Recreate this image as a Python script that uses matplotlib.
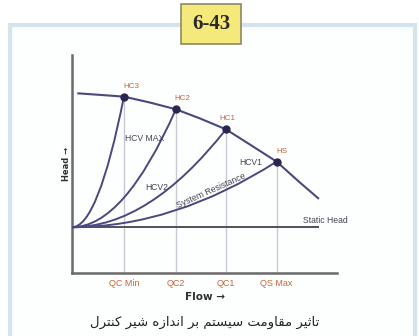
import matplotlib
matplotlib.use("Agg")
import matplotlib.pyplot as plt
from matplotlib.path import Path
from matplotlib.patches import PathPatch, Rectangle

# ---------------- data ----------------
pump_flow = [2.4, 10.6, 19.6, 29.4, 39.2, 48.3, 58.1, 66.8, 77.2, 86.0, 92.9]
pump_head = [82.4, 81.7, 80.9, 78.2, 75.1, 70.9, 65.9, 59.2, 51.1, 41.5, 34.3]
op_labels = ["HC3", "HC2", "HC1", "HS"]
op_flow = [19.6, 39.2, 58.1, 77.2]
op_head = [80.9, 75.1, 65.9, 51.1]
flow_tick_labels = ["QC Min", "QC2", "QC1", "QS Max"]
static_head = 21.0
static_end = 92.8
badge = "6-43"
caption = "تاثیر مقاومت سیستم بر اندازه شیر کنترل"

# ---------------- simple Persian shaping ----------------
FORMS = {
    "ا": ("\uFE8D", "\uFE8E", None, None),
    "ب": ("\uFE8F", "\uFE90", "\uFE91", "\uFE92"),
    "ت": ("\uFE95", "\uFE96", "\uFE97", "\uFE98"),
    "ث": ("\uFE99", "\uFE9A", "\uFE9B", "\uFE9C"),
    "د": ("\uFEA9", "\uFEAA", None, None),
    "ر": ("\uFEAD", "\uFEAE", None, None),
    "ز": ("\uFEAF", "\uFEB0", None, None),
    "س": ("\uFEB1", "\uFEB2", "\uFEB3", "\uFEB4"),
    "ش": ("\uFEB5", "\uFEB6", "\uFEB7", "\uFEB8"),
    "ق": ("\uFED5", "\uFED6", "\uFED7", "\uFED8"),
    "ل": ("\uFEDD", "\uFEDE", "\uFEDF", "\uFEE0"),
    "م": ("\uFEE1", "\uFEE2", "\uFEE3", "\uFEE4"),
    "ن": ("\uFEE5", "\uFEE6", "\uFEE7", "\uFEE8"),
    "ه": ("\uFEE9", "\uFEEA", "\uFEEB", "\uFEEC"),
    "و": ("\uFEED", "\uFEEE", None, None),
    "ی": ("\uFBFC", "\uFBFD", "\uFBFE", "\uFBFF"),
    "ک": ("\uFB8E", "\uFB8F", "\uFB90", "\uFB91"),
}


def shape(text):
    out = []
    n = len(text)
    for i, ch in enumerate(text):
        if ch not in FORMS:
            out.append(ch)
            continue
        f = FORMS[ch]
        prev = text[i - 1] if i > 0 else ""
        nxt = text[i + 1] if i < n - 1 else ""
        jp = prev in FORMS and FORMS[prev][2] is not None
        jn = f[2] is not None and nxt in FORMS
        if jp and jn:
            out.append(f[3])
        elif jp:
            out.append(f[1])
        elif jn:
            out.append(f[2])
        else:
            out.append(f[0])
    return "".join(out)[::-1]


# ---------------- figure ----------------
W, H = 419, 336
fig = plt.figure(figsize=(W / 100, H / 100), dpi=100)
fig.patch.set_facecolor("white")

# outer light-blue frame
fig.patches.append(Rectangle((10 / W, -0.05), (415 - 10) / W, (H - 25) / H + 0.05,
                             transform=fig.transFigure, fill=True,
                             facecolor="#fdfefe", edgecolor="#d3e4ec",
                             linewidth=3.0, zorder=-5))

ax = fig.add_axes([72 / W, (H - 273) / H, (337 - 72) / W, (273 - 55) / H])
ax.set_zorder(2)
ax.set_xlim(0, 100)
ax.set_ylim(0, 100)
ax.patch.set_alpha(0)
for s in ["top", "right"]:
    ax.spines[s].set_visible(False)
for s in ["left", "bottom"]:
    ax.spines[s].set_color("#6a6a6a")
    ax.spines[s].set_linewidth(1.8)

line_c = "#4a4880"

# vertical guide lines
ax.vlines(op_flow, 0, op_head, colors="#c9c9d3", linewidth=1.0, zorder=1)

# static head line
ax.plot([0, static_end], [static_head, static_head], color="#505058", lw=1.4, zorder=2)

# system curves (parabolas as quadratic Bezier paths)
for q, h in zip(op_flow, op_head):
    path = Path([(0, static_head), (q / 2, static_head), (q, h)],
                [Path.MOVETO, Path.CURVE3, Path.CURVE3])
    ax.add_patch(PathPatch(path, facecolor="none", edgecolor=line_c, lw=1.4, zorder=3))

# pump curve
ax.plot(pump_flow, pump_head, color=line_c, lw=1.5, zorder=3)
ax.plot(op_flow, op_head, "o", color="#2a2650", ms=5, zorder=4)

# operating point labels
dxs = [7, 6, 1, 5]
for lab, q, h, dx in zip(op_labels, op_flow, op_head, dxs):
    ax.annotate(lab, (q, h), xytext=(dx * 0.72, 5), textcoords="offset points",
                ha="center", va="bottom", fontsize=5.8, color="#c8643c",
                family="Liberation Sans")

# curve labels
tk = dict(fontsize=6.2, color="#454550", family="Liberation Sans")
ax.text(27.5, 61.9, "HCV MAX", ha="center", va="center", **tk)
ax.text(32.1, 39.0, "HCV2", ha="center", va="center", **tk)
ax.text(67.5, 50.9, "HCV1", ha="center", va="center", **tk)
ax.text(52.7, 37.8, "System Resistance", ha="center", va="center", rotation=24, **tk)
ax.text(104.0, 24.3, "Static Head", ha="right", va="center", clip_on=False, **tk)

# axes ticks / labels
ax.set_yticks([])
ax.set_xticks(op_flow)
ax.set_xticklabels(flow_tick_labels, fontsize=6.5, color="#c8643c", family="Liberation Sans")
ax.tick_params(axis="x", length=0, pad=4)
ax.set_xlabel("Flow \u2192", fontsize=7.5, fontweight="bold", color="#303030",
              family="DejaVu Sans", labelpad=3)
ax.set_ylabel("Head \u2192", fontsize=6, fontweight="bold", color="#303030",
              family="DejaVu Sans", labelpad=1)

# badge
fig.text(211 / W, 1 - 24 / H, badge, ha="center", va="center", fontsize=15,
         fontweight="bold", family="Liberation Serif", color="#2a2a2a",
         bbox=dict(boxstyle="square,pad=0.5", facecolor="#f6e97c", edgecolor="#8c8a62", lw=1.2))

# caption
fig.text(205 / W, 1 - 322 / H, shape(caption), ha="center", va="center", fontsize=9.5,
         family="DejaVu Sans", color="#222222")

fig.savefig("out.png", dpi=100)
